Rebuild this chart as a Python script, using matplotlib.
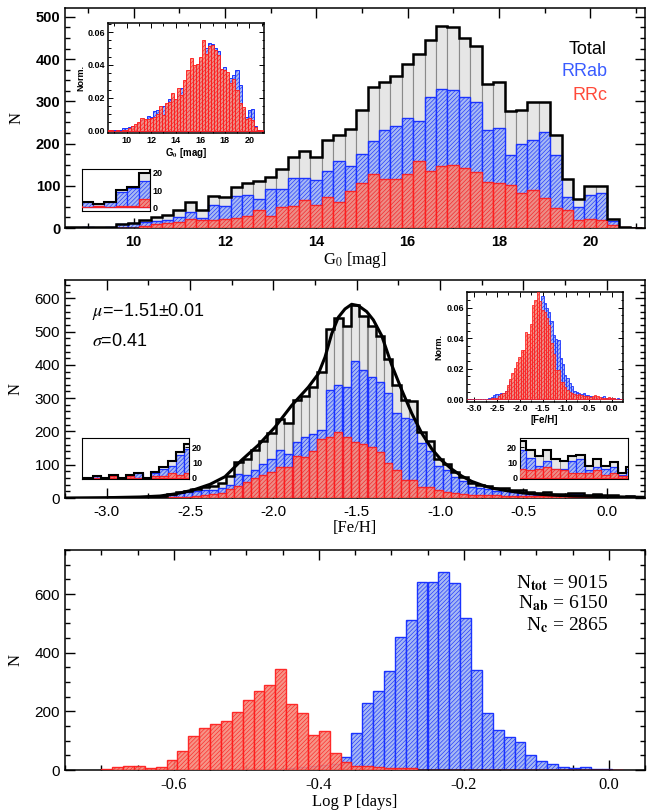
import numpy as np
import matplotlib
matplotlib.use('Agg')
import matplotlib.pyplot as plt
from matplotlib.ticker import MultipleLocator, FormatStrFormatter

plt.rcParams['hatch.linewidth'] = 0.45
plt.rcParams['mathtext.fontset'] = 'stix'

# ---------------- DATA ----------------
# Panel 1: G0 magnitude histogram (bin width 0.25, first edge 8.375)
g_first_edge = 8.375
g_bin = 0.25
g_total = [2, 2, 3, 2, 3, 10, 12, 20, 25, 30, 42, 62, 43, 76, 74, 98, 107, 111, 120, 140,
           167, 182, 167, 209, 220, 235, 280, 333, 346, 359, 389, 412, 445, 478, 475, 451,
           430, 340, 346, 277, 280, 299, 299, 220, 115, 68, 99, 99, 21, 3, 1]
g_rrab = [1, 1, 3, 1, 3, 9, 11, 15, 16, 19, 27, 39, 23, 55, 53, 75, 77, 69, 93, 92,
          118, 118, 114, 136, 159, 148, 175, 206, 231, 242, 261, 253, 310, 330, 326, 310,
          299, 232, 238, 174, 198, 208, 227, 172, 73, 50, 77, 83, 16, 1, 0]
g_rrc = [1, 1, 0, 1, 0, 1, 1, 5, 9, 11, 15, 22, 20, 20, 22, 24, 29, 43, 28, 49,
         51, 66, 55, 74, 62, 88, 106, 127, 115, 117, 129, 158, 134, 148, 150, 141,
         133, 108, 107, 103, 83, 91, 72, 48, 42, 20, 22, 18, 6, 2, 1]

# Panel 2: [Fe/H] histogram (bin width 0.05, first edge -3.285)
f_first_edge = -3.285
f_bin = 0.05
f_total = [0, 0, 0, 0, 1, 0, 2, 0, 2, 3, 0, 4, 7, 11, 17, 22, 27, 33, 36, 46,
           65, 109, 117, 143, 170, 194, 236, 225, 294, 306, 333, 380, 508, 540, 518, 579,
           546, 516, 488, 418, 340, 294, 290, 198, 172, 118, 103, 78, 64, 44, 38, 36,
           29, 31, 24, 24, 18, 14, 18, 12, 11, 14, 15, 8, 12, 8, 10, 3, 7, 3, 2]
f_rrab = [0, 0, 0, 0, 1, 0, 1, 0, 1, 3, 0, 3, 6, 8, 15, 19, 21, 24, 24, 31,
          39, 72, 68, 84, 101, 116, 144, 131, 167, 184, 191, 203, 324, 340, 335, 412,
          384, 364, 349, 314, 256, 240, 236, 165, 140, 95, 85, 64, 52, 34, 30, 26,
          21, 25, 18, 18, 13, 8, 11, 6, 6, 11, 12, 5, 7, 6, 7, 2, 6, 2, 1]
f_rrc = [0, 0, 0, 0, 0, 0, 1, 0, 1, 0, 0, 1, 1, 3, 2, 3, 6, 9, 12, 15,
         26, 37, 49, 59, 69, 78, 92, 92, 126, 122, 141, 176, 184, 199, 182, 167,
         162, 152, 139, 104, 84, 54, 54, 33, 32, 23, 18, 14, 12, 10, 8, 10,
         8, 6, 6, 6, 5, 6, 7, 6, 5, 3, 3, 3, 5, 2, 3, 1, 1, 1, 1]
# fitted curve
curve_feh = [-3.25, -3.0, -2.8, -2.68, -2.58, -2.48, -2.38, -2.29, -2.19, -2.09, -1.99,
             -1.89, -1.79, -1.73, -1.69, -1.65, -1.61, -1.57, -1.53, -1.49, -1.44, -1.40,
             -1.35, -1.29, -1.23, -1.17, -1.11, -1.05, -0.99, -0.93, -0.87, -0.81, -0.75,
             -0.69, -0.60, -0.50, -0.40, -0.30, -0.20, -0.10, 0.0, 0.23]
curve_n = [0, 1, 3, 6, 13, 24, 41, 64, 114, 159, 213, 278, 333, 373, 423, 493, 543, 568,
           582, 578, 560, 535, 488, 400, 325, 255, 195, 148, 113, 87, 66, 50, 39,
           30, 22, 15, 11, 8, 6, 5, 4, 2]

# Panel 3: log P histogram (bin width 0.015, first edge -0.70)
p_first_edge = -0.70
p_bin = 0.015
p_rrab = [0, 0, 0, 0, 0, 0, 0, 0, 1, 1, 1, 1, 2, 2, 3, 3, 5, 8, 9, 15, 18, 22,
          45, 125, 227, 270, 339, 452, 511, 640, 642, 676, 636, 517, 341, 193, 136, 111,
          94, 51, 32, 20, 9, 6, 11, 5, 3, 1]
p_rrc = [5, 9, 13, 15, 8, 9, 33, 65, 115, 142, 156, 167, 198, 239, 269, 290, 344, 225,
         193, 119, 134, 57, 28, 15, 14, 9, 7, 6, 6, 0, 0, 0, 0, 0, 0, 0, 0, 0,
         0, 0, 0, 0, 0, 0, 0, 0, 0, 0]

labels_types = ['Total', 'RRab', 'RRc']
mu_text = r'$\mu$=−1.51±0.01'
sigma_text = r'$\sigma$=0.41'
n_texts = [r'N$_{\mathbf{tot}}$ = 9015', r'N$_{\mathbf{ab}}$ = 6150', r'N$_{\mathbf{c}}$ = 2865']

# ---------------- STYLE ----------------
GRAY_FACE = '#e6e6e6'
GRAY_EDGE = '#8a8a8a'
BLUE_FACE = '#a7b9f3'
BLUE_EDGE = '#1a33ff'
RED_FACE = '#f4897a'
RED_EDGE = '#ff1a1a'
SANS = 'Liberation Sans'
SERIF = 'Liberation Serif'
HATCH = '////////'


def make_edges(first, width, n):
    return first + width * np.arange(n + 1)


def draw_hists(ax, edges, tot, ab, c, lw=1.0, tlw=1.8, hatch=HATCH):
    left = edges[:-1]
    w = np.diff(edges)
    if tot is not None:
        ax.bar(left, tot, width=w, align='edge', facecolor=GRAY_FACE,
               edgecolor=GRAY_EDGE, linewidth=lw * 0.8, zorder=1)
    ax.bar(left, ab, width=w, align='edge', facecolor=BLUE_FACE,
           edgecolor=BLUE_EDGE, hatch=hatch, linewidth=lw, zorder=2)
    ax.bar(left, c, width=w, align='edge', facecolor=RED_FACE,
           edgecolor=RED_EDGE, hatch=hatch, linewidth=lw, zorder=3, alpha=0.9)
    if tot is not None:
        ax.stairs(tot, edges, color='k', linewidth=tlw, zorder=4)


def style_axis(ax, maj=7, mnr=3.5, width=1.0):
    ax.tick_params(which='both', direction='in', top=True, right=True, width=width)
    ax.tick_params(which='major', length=maj)
    ax.tick_params(which='minor', length=mnr)
    for s in ax.spines.values():
        s.set_linewidth(1.1)


fig = plt.figure(figsize=(6.57, 8.11), dpi=100)
W, H = 657.0, 811.0


def px_axes(x0, y0, x1, y1):
    return fig.add_axes([x0 / W, 1 - y1 / H, (x1 - x0) / W, (y1 - y0) / H])


def small_ticklabels(ax, size=6.5):
    for t in ax.get_xticklabels() + ax.get_yticklabels():
        t.set_fontfamily(SANS)
        t.set_fontweight('bold')
        t.set_fontsize(size)


# ================= PANEL 1 =================
ax1 = px_axes(65, 8, 645, 228)
g_edges = make_edges(g_first_edge, g_bin, len(g_total))
draw_hists(ax1, g_edges, np.array(g_total), np.array(g_rrab), np.array(g_rrc))
ax1.set_xlim(8.5, 21.2)
ax1.set_ylim(0, 521)
ax1.xaxis.set_major_locator(MultipleLocator(2))
ax1.xaxis.set_minor_locator(MultipleLocator(1))
ax1.yaxis.set_major_locator(MultipleLocator(100))
ax1.yaxis.set_minor_locator(MultipleLocator(25))
style_axis(ax1)
for t in ax1.get_xticklabels() + ax1.get_yticklabels():
    t.set_fontfamily(SANS)
    t.set_fontweight('bold')
    t.set_fontsize(10.5)
ax1.tick_params(axis='x', pad=5)
ax1.set_xlabel('G$_0$ [mag]', fontfamily=SERIF, fontsize=12, labelpad=1)
ax1.set_ylabel('N', fontfamily=SERIF, fontsize=12, labelpad=8)
ax1.text(0.9345, 0.812, labels_types[0], transform=ax1.transAxes, ha='right', va='center',
         fontsize=13, fontfamily=SANS, color='k')
ax1.text(0.9345, 0.7105, labels_types[1], transform=ax1.transAxes, ha='right', va='center',
         fontsize=13, fontfamily=SANS, color='#3a5cff')
ax1.text(0.9345, 0.6045, labels_types[2], transform=ax1.transAxes, ha='right', va='center',
         fontsize=13, fontfamily=SANS, color='#ff4a3a')

# normalized inset
ax1n = px_axes(108.3, 23.3, 264, 133.3)
ab_n = np.array(g_rrab) / np.sum(g_rrab)
c_n = np.array(g_rrc) / np.sum(g_rrc)
draw_hists(ax1n, g_edges, None, ab_n, c_n, lw=0.7)
ax1n.set_xlim(8.5, 21.2)
ax1n.set_ylim(-0.0016, 0.0653)
ax1n.xaxis.set_major_locator(MultipleLocator(2))
ax1n.xaxis.set_minor_locator(MultipleLocator(1))
ax1n.yaxis.set_major_locator(MultipleLocator(0.02))
ax1n.yaxis.set_minor_locator(MultipleLocator(0.005))
ax1n.yaxis.set_major_formatter(FormatStrFormatter('%.2f'))
style_axis(ax1n, maj=3.5, mnr=1.8, width=0.7)
small_ticklabels(ax1n)
ax1n.tick_params(pad=2)
ax1n.set_xlabel(r'G$_\mathbf{0}$ [mag]', fontfamily=SANS, fontweight='bold', fontsize=7, labelpad=1)
ax1n.set_ylabel('Norm.', fontfamily=SANS, fontweight='bold', fontsize=6.5, labelpad=2)

# small zoom inset
ax1s = px_axes(81.7, 169.3, 150, 210.7)
draw_hists(ax1s, g_edges, np.array(g_total), np.array(g_rrab), np.array(g_rrc), lw=0.9, tlw=1.5)
ax1s.set_xlim(8.875, 10.375)
ax1s.set_ylim(-2, 22)
ax1s.set_xticks([])
ax1s.set_yticks([0, 10, 20])
ax1s.yaxis.tick_right()
ax1s.tick_params(axis='y', direction='in', length=3, width=0.7, pad=2)
small_ticklabels(ax1s)

# ================= PANEL 2 =================
ax2 = px_axes(65, 280, 645, 498)
f_edges = make_edges(f_first_edge, f_bin, len(f_total))
draw_hists(ax2, f_edges, np.array(f_total), np.array(f_rrab), np.array(f_rrc))
ax2.plot(curve_feh, curve_n, color='k', linewidth=2.2, zorder=6)
ax2.set_xlim(-3.25, 0.23)
ax2.set_ylim(0, 655)
ax2.xaxis.set_major_locator(MultipleLocator(0.5))
ax2.xaxis.set_minor_locator(MultipleLocator(0.25))
ax2.xaxis.set_major_formatter(FormatStrFormatter('%.1f'))
ax2.yaxis.set_major_locator(MultipleLocator(100))
ax2.yaxis.set_minor_locator(MultipleLocator(20))
style_axis(ax2)
for t in ax2.get_xticklabels() + ax2.get_yticklabels():
    t.set_fontfamily(SANS)
    t.set_fontsize(11)
ax2.tick_params(axis='x', pad=5)
ax2.set_xlabel('[Fe/H]', fontfamily=SERIF, fontsize=12, labelpad=1)
ax2.set_ylabel('N', fontfamily=SERIF, fontsize=12, labelpad=8)
ax2.text(0.046, 0.8546, mu_text, transform=ax2.transAxes, ha='left', va='center',
         fontsize=13, fontfamily=SANS)
ax2.text(0.046, 0.7156, sigma_text, transform=ax2.transAxes, ha='left', va='center',
         fontsize=13, fontfamily=SANS)

# normalized inset
ax2n = px_axes(466.7, 291.7, 622.7, 401.7)
fab_n = np.array(f_rrab) / np.sum(f_rrab)
fc_n = np.array(f_rrc) / np.sum(f_rrc)
draw_hists(ax2n, f_edges, None, fab_n, fc_n, lw=0.6)
ax2n.set_xlim(-3.16, 0.24)
ax2n.set_ylim(-0.0016, 0.0705)
ax2n.xaxis.set_major_locator(MultipleLocator(0.5))
ax2n.xaxis.set_minor_locator(MultipleLocator(0.25))
ax2n.xaxis.set_major_formatter(FormatStrFormatter('%.1f'))
ax2n.yaxis.set_major_locator(MultipleLocator(0.02))
ax2n.yaxis.set_minor_locator(MultipleLocator(0.005))
ax2n.yaxis.set_major_formatter(FormatStrFormatter('%.2f'))
style_axis(ax2n, maj=3.5, mnr=1.8, width=0.7)
small_ticklabels(ax2n)
ax2n.tick_params(pad=2)
ax2n.set_xlabel('[Fe/H]', fontfamily=SANS, fontweight='bold', fontsize=7, labelpad=1)
ax2n.set_ylabel('Norm.', fontfamily=SANS, fontweight='bold', fontsize=6.5, labelpad=2)

# lower-left zoom inset
ax2l = px_axes(81.7, 438.3, 189.3, 479.3)
draw_hists(ax2l, f_edges, np.array(f_total), np.array(f_rrab), np.array(f_rrc), lw=0.9, tlw=1.5)
ax2l.set_xlim(-3.15, -2.505)
ax2l.set_ylim(-1, 25.8)
ax2l.set_xticks([])
ax2l.set_yticks([0, 10, 20])
ax2l.yaxis.tick_right()
ax2l.tick_params(axis='y', direction='in', length=3, width=0.7, pad=2)
small_ticklabels(ax2l)

# lower-right zoom inset
ax2r = px_axes(520, 438.3, 628.3, 479.3)
draw_hists(ax2r, f_edges, np.array(f_total), np.array(f_rrab), np.array(f_rrc), lw=0.9, tlw=1.5)
ax2r.set_xlim(-0.522, 0.127)
ax2r.set_ylim(-1, 25.8)
ax2r.set_xticks([])
ax2r.set_yticks([0, 10, 20])
ax2r.tick_params(axis='y', direction='in', length=3, width=0.7, pad=2)
small_ticklabels(ax2r)

# ================= PANEL 3 =================
ax3 = px_axes(65, 550, 645, 770)
p_edges = make_edges(p_first_edge, p_bin, len(p_rrab))
draw_hists(ax3, p_edges, None, np.array(p_rrab), np.array(p_rrc))
ax3.set_xlim(-0.75, 0.05)
ax3.set_ylim(0, 750)
ax3.xaxis.set_major_locator(MultipleLocator(0.2))
ax3.xaxis.set_minor_locator(MultipleLocator(0.05))
ax3.xaxis.set_major_formatter(FormatStrFormatter('%.1f'))
ax3.yaxis.set_major_locator(MultipleLocator(200))
ax3.yaxis.set_minor_locator(MultipleLocator(50))
style_axis(ax3)
for t in ax3.get_xticklabels():
    t.set_fontfamily(SERIF)
    t.set_fontsize(12)
for t in ax3.get_yticklabels():
    t.set_fontfamily(SANS)
    t.set_fontsize(11)
ax3.tick_params(axis='x', pad=5)
ax3.set_xlabel('Log P [days]', fontfamily=SERIF, fontsize=12, labelpad=1)
ax3.set_ylabel('N', fontfamily=SERIF, fontsize=12, labelpad=8)
for txt, yy in zip(n_texts, [0.851, 0.758, 0.659]):
    ax3.text(0.9367, yy, txt, transform=ax3.transAxes, ha='right', va='center',
             fontsize=14, fontfamily=SERIF)

fig.savefig('out.png', dpi=100)
